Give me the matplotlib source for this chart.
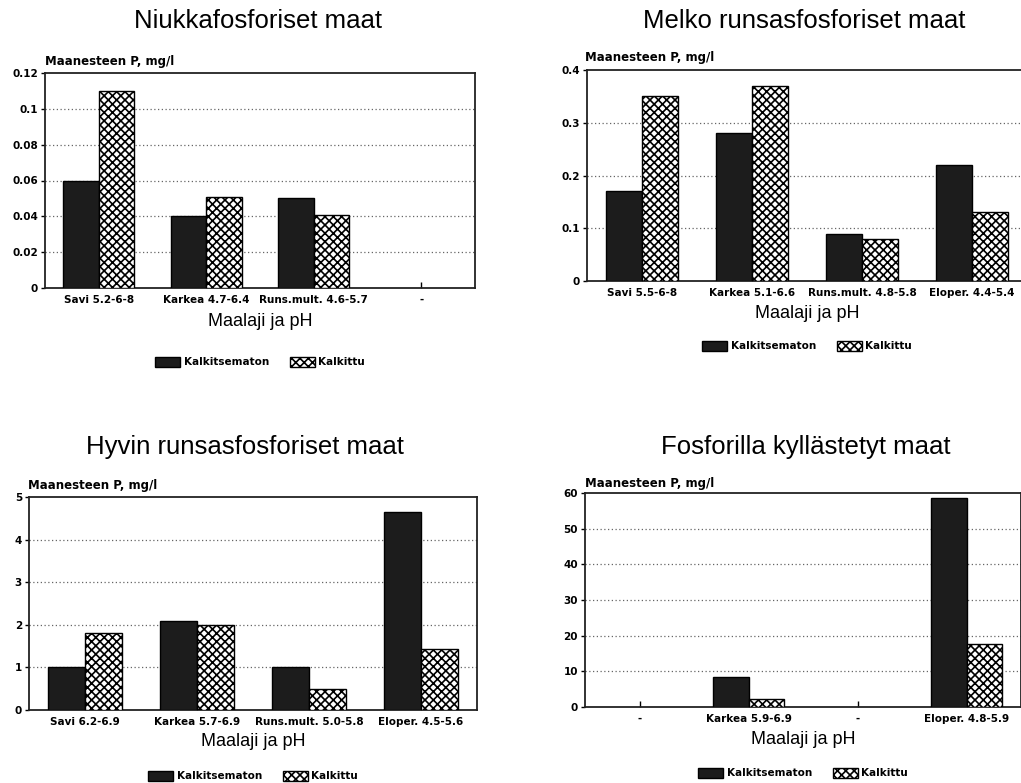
import numpy as np
import matplotlib
matplotlib.use("Agg")
import matplotlib.pyplot as plt

W, H = 1021, 783

# ---------------- data ----------------
titles = ["Niukkafosforiset maat", "Melko runsasfosforiset maat",
          "Hyvin runsasfosforiset maat", "Fosforilla kyllästetyt maat"]

cats_tl = ["Savi 5.2-6-8", "Karkea 4.7-6.4", "Runs.mult. 4.6-5.7", "-"]
unlimed_tl = [0.06, 0.04, 0.05, np.nan]
limed_tl = [0.11, 0.051, 0.041, np.nan]
yticks_tl = [0, 0.02, 0.04, 0.06, 0.08, 0.1, 0.12]

cats_tr = ["Savi 5.5-6-8", "Karkea 5.1-6.6", "Runs.mult. 4.8-5.8", "Eloper. 4.4-5.4"]
unlimed_tr = [0.17, 0.28, 0.09, 0.22]
limed_tr = [0.35, 0.37, 0.08, 0.13]
yticks_tr = [0, 0.1, 0.2, 0.3, 0.4]

cats_bl = ["Savi 6.2-6.9", "Karkea 5.7-6.9", "Runs.mult. 5.0-5.8", "Eloper. 4.5-5.6"]
unlimed_bl = [1.0, 2.1, 1.0, 4.65]
limed_bl = [1.8, 2.0, 0.5, 1.44]
yticks_bl = [0, 1, 2, 3, 4, 5]

cats_br = ["-", "Karkea 5.9-6.9", "-", "Eloper. 4.8-5.9"]
unlimed_br = [np.nan, 8.5, np.nan, 58.5]
limed_br = [np.nan, 2.3, np.nan, 17.8]
yticks_br = [0, 10, 20, 30, 40, 50, 60]

series_names = ["Kalkitsematon", "Kalkittu"]
ylabel = "Maanesteen P, mg/l"
xlabel = "Maalaji ja pH"

# ---------------- style ----------------
plt.rcParams["hatch.linewidth"] = 1.2

fig = plt.figure(figsize=(W / 100, H / 100), dpi=100)
fig.patch.set_facecolor("white")

# axes boxes in pixel coords: left, top, right, bottom
panels = [
    dict(box=(45, 73, 475, 288), cats=cats_tl, a=unlimed_tl, b=limed_tl, yt=yticks_tl,
         ytl=["0", "0.02", "0.04", "0.06", "0.08", "0.1", "0.12"],
         title_xy=(258, 21), ylab_xy=(45, 62), leg_dy=74, xl_dy=33),
    dict(box=(587, 70, 1027, 281), cats=cats_tr, a=unlimed_tr, b=limed_tr, yt=yticks_tr,
         ytl=["0", "0.1", "0.2", "0.3", "0.4"],
         title_xy=(804, 21), ylab_xy=(585, 58), leg_dy=65, xl_dy=32),
    dict(box=(29, 497, 477, 710), cats=cats_bl, a=unlimed_bl, b=limed_bl, yt=yticks_bl,
         ytl=[str(v) for v in yticks_bl],
         title_xy=(245, 447), ylab_xy=(28, 485), leg_dy=66, xl_dy=32),
    dict(box=(585, 493, 1021, 707), cats=cats_br, a=unlimed_br, b=limed_br, yt=yticks_br,
         ytl=[str(v) for v in yticks_br],
         title_xy=(806, 447), ylab_xy=(585, 483), leg_dy=66, xl_dy=32),
]

bw = 0.33
for p, title in zip(panels, titles):
    l, t, r, btm = p["box"]
    ax = fig.add_axes([l / W, 1 - btm / H, (r - l) / W, (btm - t) / H])
    x = np.arange(len(p["cats"]))
    ax.bar(x - bw / 2, p["a"], bw, color="#1c1c1c", edgecolor="black", linewidth=1.0,
           label=series_names[0], zorder=3)
    ax.bar(x + bw / 2, p["b"], bw, color="white", edgecolor="black", hatch="xxxx",
           linewidth=1.0, label=series_names[1], zorder=3)
    ax.set_xlim(-0.5, len(p["cats"]) - 0.5)
    ax.set_ylim(p["yt"][0], p["yt"][-1])
    ax.set_yticks(p["yt"])
    ax.set_yticklabels(p["ytl"], fontsize=7.5, fontweight="bold")
    ax.set_xticks(x)
    ax.set_xticklabels(p["cats"], fontsize=7.5, fontweight="bold")
    ax.tick_params(axis="x", direction="in", length=4, width=1, pad=5)
    ax.tick_params(axis="y", direction="out", length=3, width=1, pad=2)
    for yv in p["yt"][1:-1]:
        ax.axhline(yv, color="#666666", linestyle=(0, (1, 2)), linewidth=0.9, zorder=1)
    for s in ax.spines.values():
        s.set_linewidth(1.3)
        s.set_color("#222222")
    h_px = btm - t
    ax.set_xlabel(xlabel, fontsize=13, family="Liberation Sans", va="center")
    ax.xaxis.set_label_coords(0.5, -p["xl_dy"] / h_px)
    ax.legend(loc="center", bbox_to_anchor=(0.5, -p["leg_dy"] / h_px), ncol=2,
              frameon=False, prop=dict(size=7.5, weight="bold"),
              handlelength=2.4, handleheight=1.1, handletextpad=0.3,
              columnspacing=2.0)
    fig.text(p["title_xy"][0] / W, 1 - p["title_xy"][1] / H, title, ha="center",
             va="center", fontsize=18.5, family="Liberation Sans")
    fig.text(p["ylab_xy"][0] / W, 1 - p["ylab_xy"][1] / H, ylabel, ha="left",
             va="center", fontsize=8.5, fontweight="bold")

fig.savefig("out.png", dpi=100, facecolor="white")
